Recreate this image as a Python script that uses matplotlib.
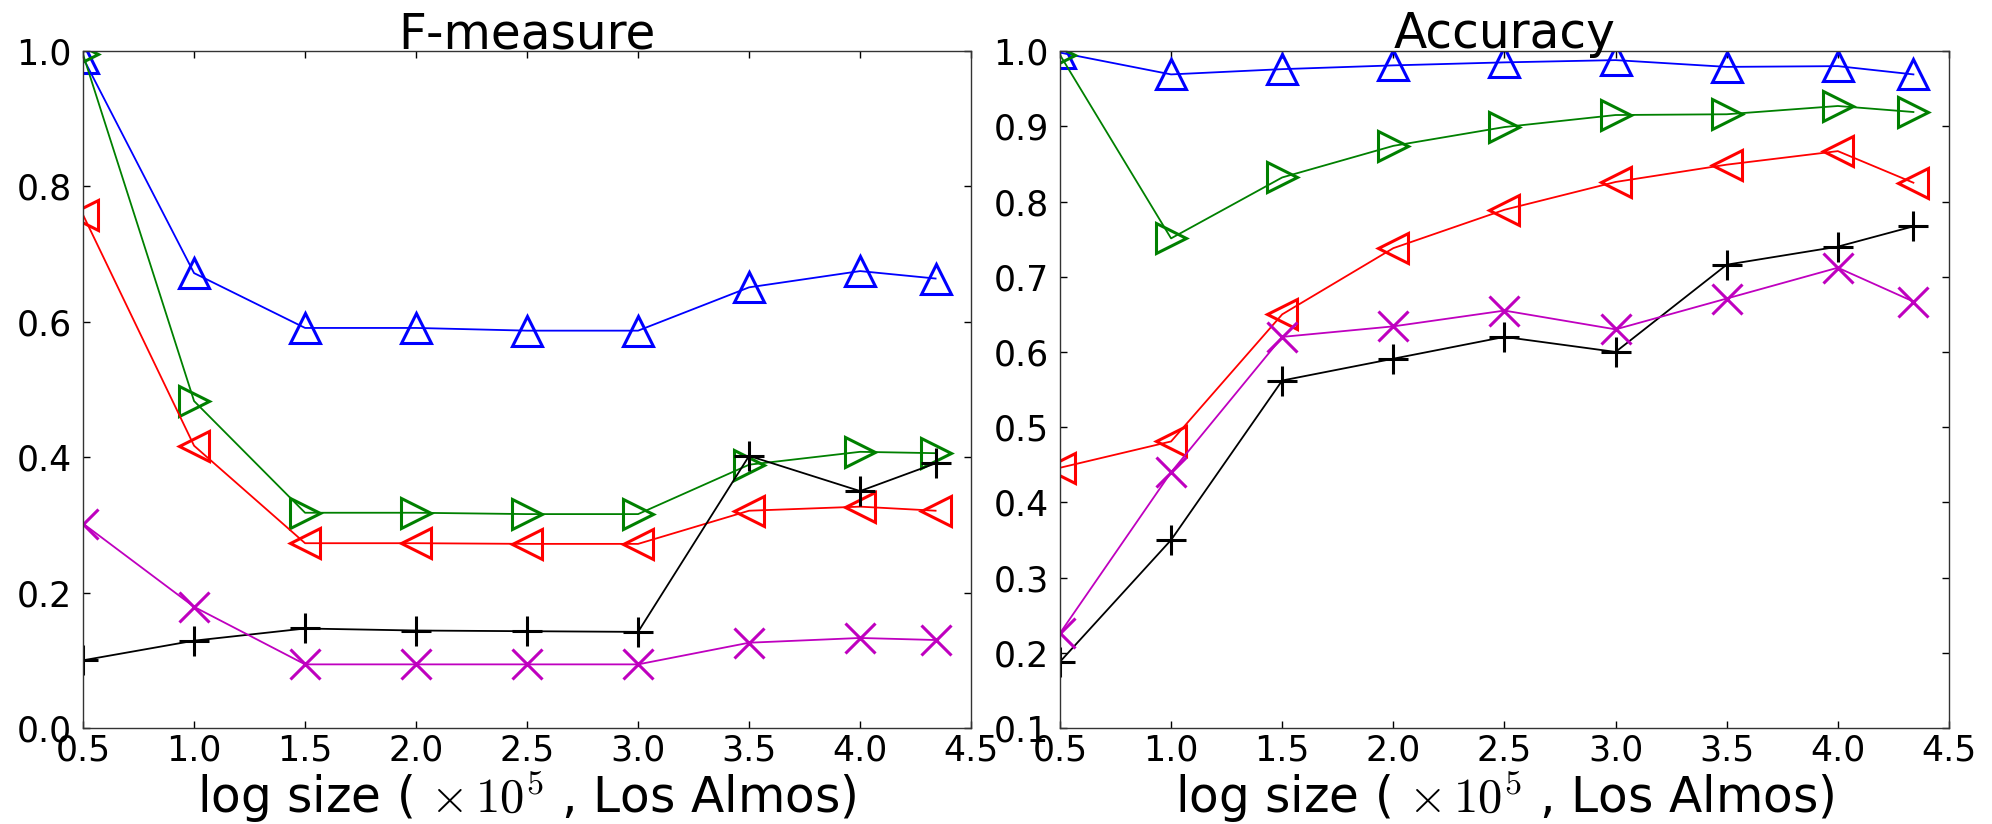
import numpy as np
import matplotlib
matplotlib.use('Agg')
import matplotlib.pyplot as plt

plt.rcParams['font.family'] = 'DejaVu Sans'
plt.rcParams['mathtext.fontset'] = 'cm'

sizes = [0.5, 1.0, 1.5, 2.0, 2.5, 3.0, 3.5, 4.0, 4.34]

# F-measure
f_blue = [0.99, 0.672, 0.591, 0.591, 0.587, 0.587, 0.651, 0.675, 0.664]
f_green = [0.995, 0.483, 0.318, 0.318, 0.316, 0.316, 0.389, 0.408, 0.406]
f_red = [0.758, 0.417, 0.273, 0.273, 0.272, 0.272, 0.321, 0.327, 0.321]
f_black = [0.100, 0.129, 0.147, 0.144, 0.143, 0.142, 0.402, 0.350, 0.391]
f_magenta = [0.302, 0.179, 0.094, 0.094, 0.094, 0.094, 0.126, 0.133, 0.130]

# Accuracy
a_blue = [0.998, 0.969, 0.976, 0.981, 0.985, 0.988, 0.979, 0.980, 0.969]
a_green = [0.995, 0.751, 0.832, 0.874, 0.899, 0.915, 0.916, 0.927, 0.919]
a_red = [0.446, 0.481, 0.650, 0.738, 0.789, 0.826, 0.849, 0.867, 0.825]
a_black = [0.188, 0.350, 0.562, 0.591, 0.620, 0.600, 0.716, 0.740, 0.767]
a_magenta = [0.226, 0.440, 0.620, 0.634, 0.655, 0.630, 0.671, 0.712, 0.667]

styles = [('^', (0, 0, 1)), ('>', (0, 0.5, 0)), ('<', (1, 0, 0)),
          ('+', (0, 0, 0)), ('x', (0.75, 0, 0.75))]

fig = plt.figure(figsize=(19.92, 8.24), dpi=100)
ax1 = fig.add_axes([0.0417, 0.1165, 0.4458, 0.8215])
ax2 = fig.add_axes([0.5321, 0.1165, 0.4463, 0.8215])

panels = [
    (ax1, 'F-measure', [f_blue, f_green, f_red, f_black, f_magenta], (0.0, 1.0), np.arange(0, 1.01, 0.2)),
    (ax2, 'Accuracy', [a_blue, a_green, a_red, a_black, a_magenta], (0.1, 1.0), np.arange(0.1, 1.01, 0.1)),
]

for ax, title, series, ylim, yticks in panels:
    for vals, (m, c) in zip(series, styles):
        ax.plot(sizes, vals, color=c, marker=m, markersize=22, markeredgewidth=2.2,
                markerfacecolor='none', markeredgecolor=c, linewidth=1.3)
    ax.set_xlim(0.5, 4.5)
    ax.set_ylim(*ylim)
    ax.set_xticks(np.arange(0.5, 4.51, 0.5))
    ax.set_yticks(yticks)
    ax.xaxis.set_major_formatter(matplotlib.ticker.FormatStrFormatter('%.1f'))
    ax.yaxis.set_major_formatter(matplotlib.ticker.FormatStrFormatter('%.1f'))
    ax.tick_params(direction='in', length=5, width=1, top=True, right=True,
                   labelsize=25)
    ax.tick_params(axis='y', pad=8)
    ax.tick_params(axis='x', pad=4)
    for s in ax.spines.values():
        s.set_linewidth(1.0)
        s.set_color('#333333')
    ax.set_title(title, fontsize=35, pad=2)
    ax.set_xlabel(r'log size ( $\times\,10^5$ , Los Almos)', fontsize=35, labelpad=1)

fig.savefig('out.png', dpi=100, facecolor='white')
